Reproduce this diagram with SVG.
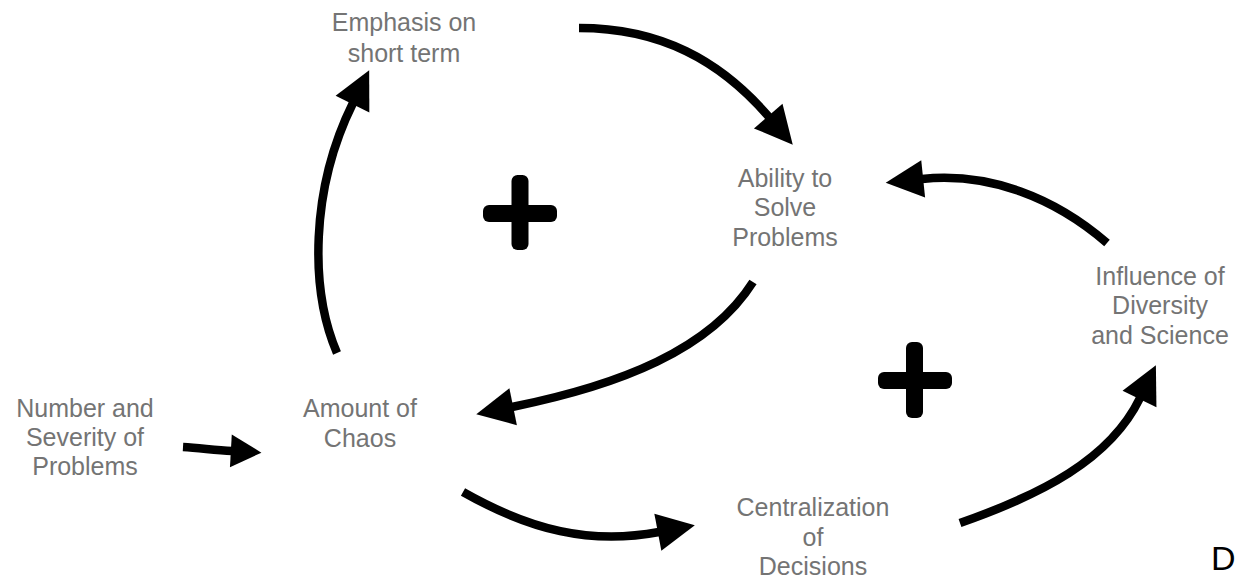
<svg xmlns="http://www.w3.org/2000/svg" width="1237" height="579" viewBox="0 0 1237 579">
<defs>
<style>
.lbl{font-family:"Liberation Sans",Arial,sans-serif;font-size:25px;fill:#747474;text-anchor:middle}
.c{fill:none;stroke:#000;stroke-width:8.5;stroke-linecap:butt}
.plus{fill:#000}
</style>
<marker id="ah" markerUnits="userSpaceOnUse" orient="auto" markerWidth="40" markerHeight="40" refX="1" refY="16" viewBox="0 0 34 32" overflow="visible">
<path d="M0,0 L32,16 L0,32 Z" fill="#000"/>
</marker>
<marker id="ahs" markerUnits="userSpaceOnUse" orient="auto" markerWidth="34" markerHeight="34" refX="1" refY="14.5" viewBox="0 0 30 29" overflow="visible">
<path d="M0,0 L27,14.5 L0,29 Z" fill="#000"/>
</marker>
</defs>
<rect width="1237" height="579" fill="#fff"/>
<g id="connectors">
<path class="c" d="M579,28 C660,28 720,60 769,117" marker-end="url(#ah)"/>
<path class="c" d="M1107,243 C1055,198 990,172 922,179" marker-end="url(#ah)"/>
<path class="c" d="M753,282 C710,350 620,385 512,407" marker-end="url(#ah)"/>
<path class="c" d="M463,492 C530,530 590,545 659,532" marker-end="url(#ah)"/>
<path class="c" d="M960,523 C1040,495 1110,460 1140,398" marker-end="url(#ah)"/>
<path class="c" d="M337,353 C310,290 310,190 353,103" marker-end="url(#ah)"/>
<path class="c" d="M183,447 C200,448 214,450 232,451" marker-end="url(#ahs)"/>
</g>
<g id="node-emphasis"><text class="lbl" x="404" y="31">Emphasis on</text><text class="lbl" x="404" y="62">short term</text></g>
<g id="node-ability"><text class="lbl" x="785" y="187">Ability to</text><text class="lbl" x="785" y="216">Solve</text><text class="lbl" x="785" y="246">Problems</text></g>
<g id="node-influence"><text class="lbl" x="1160" y="285">Influence of</text><text class="lbl" x="1160" y="314">Diversity</text><text class="lbl" x="1160" y="344">and Science</text></g>
<g id="node-number"><text class="lbl" x="85" y="417">Number and</text><text class="lbl" x="85" y="446">Severity of</text><text class="lbl" x="85" y="475">Problems</text></g>
<g id="node-chaos"><text class="lbl" x="360" y="417">Amount of</text><text class="lbl" x="360" y="447">Chaos</text></g>
<g id="node-centralization"><text class="lbl" x="813" y="516">Centralization</text><text class="lbl" x="813" y="546">of</text><text class="lbl" x="813" y="575">Decisions</text></g>
<g id="plus-1"><rect class="plus" x="511.5" y="175" width="17" height="75" rx="6"/><rect class="plus" x="483" y="205" width="74" height="17" rx="6"/></g>
<g id="plus-2"><rect class="plus" x="906" y="342" width="17" height="76" rx="6"/><rect class="plus" x="878" y="372" width="74" height="17" rx="6"/></g>
<text x="1211" y="570" style="font-family:'Liberation Sans',Arial,sans-serif;font-size:34px;fill:#000">D</text>
</svg>
